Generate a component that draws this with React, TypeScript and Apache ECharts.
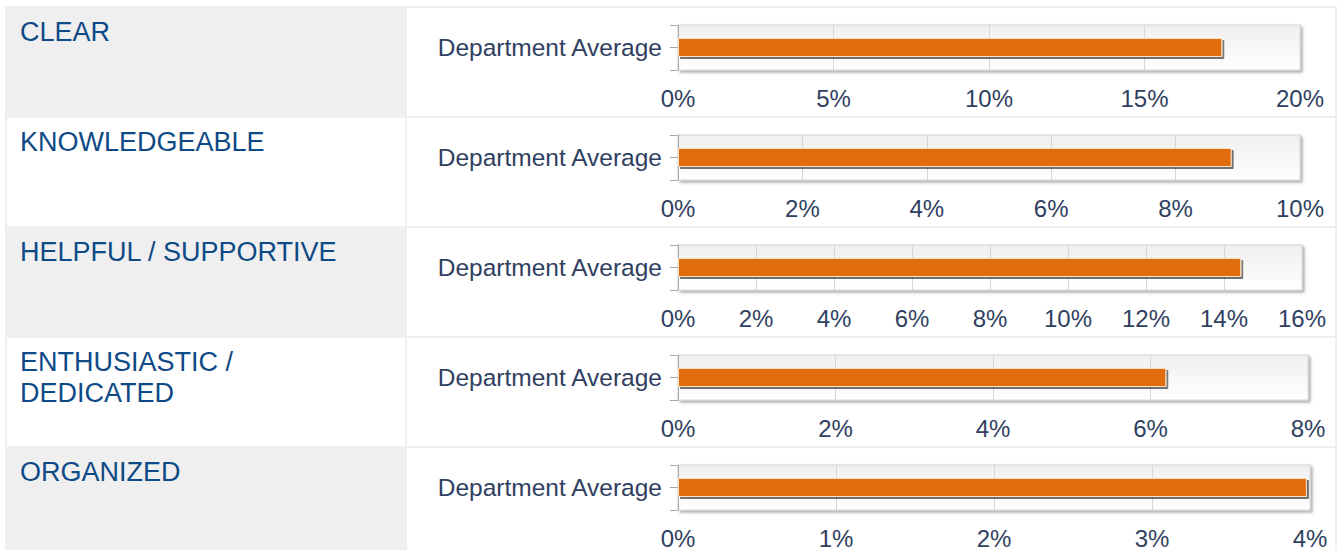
import React, { useEffect, useRef } from "react";
import * as echarts from "echarts";

const categories = ["CLEAR", "KNOWLEDGEABLE", "HELPFUL / SUPPORTIVE", "ENTHUSIASTIC / DEDICATED", "ORGANIZED"];
const seriesName = "Department Average";
const values = [17.5, 8.9, 14.44, 6.2, 3.98];
const axisMax = [20, 10, 16, 8, 4];
const axisInterval = [5, 2, 2, 2, 1];

const FONT = "'Liberation Sans', Arial, sans-serif";
const ROW_PITCH = 110;
const ROW_TOP0 = 8;
const PLOT_LEFT = 678;
const plotRightEdges = [1300, 1300, 1302, 1308, 1310];

export default function App() {
  const ref = useRef<HTMLDivElement>(null);
  useEffect(() => {
    if (!ref.current) return;
    const chart = echarts.init(ref.current, undefined, { renderer: "svg" });
    const W = 1337;
    const grids: any[] = [];
    const xAxes: any[] = [];
    const yAxes: any[] = [];
    const series: any[] = [];
    const graphics: any[] = [
      { type: "rect", z: -10, shape: { x: 5, y: 6, width: 1345, height: 560 }, style: { fill: "#efefef" } },
    ];
    categories.forEach((cat, i) => {
      const top = ROW_TOP0 + ROW_PITCH * i;
      graphics.push({
        type: "rect", z: -9,
        shape: { x: 7, y: top, width: 398, height: 108 },
        style: { fill: i % 2 === 0 ? "#efefef" : "#ffffff" },
      });
      graphics.push({
        type: "rect", z: -9,
        shape: { x: 407, y: top, width: 928, height: 108 },
        style: { fill: "#ffffff" },
      });
      graphics.push({
        type: "text", z: 5, x: 20, y: top + 8,
        style: {
          text: cat, fill: "#0e4a86", font: `27px ${FONT}`,
          width: 330, overflow: "break", lineHeight: 31,
        },
      });
      grids.push({
        show: true,
        left: PLOT_LEFT,
        right: W - plotRightEdges[i],
        top: top + 17,
        height: 45,
        borderWidth: 1,
        borderColor: "#d4d4d4",
        backgroundColor: new echarts.graphic.LinearGradient(0, 0, 0, 1, [
          { offset: 0, color: "#efefef" },
          { offset: 1, color: "#ffffff" },
        ]),
        shadowColor: "rgba(0,0,0,0.35)",
        shadowBlur: 3,
        shadowOffsetX: 2,
        shadowOffsetY: 2,
      });
      xAxes.push({
        type: "value",
        gridIndex: i,
        min: 0,
        max: axisMax[i],
        interval: axisInterval[i],
        axisLine: { show: false },
        axisTick: { show: false },
        splitLine: { show: true, lineStyle: { color: "#d6d6d6", width: 1 } },
        axisLabel: {
          formatter: "{value}%",
          color: "#2f4060",
          fontFamily: FONT,
          fontSize: 24,
          margin: 16,
        },
      });
      yAxes.push({
        type: "category",
        gridIndex: i,
        position: "left",
        data: [seriesName],
        axisLine: { show: true, lineStyle: { color: "#a8a8a8", width: 1 } },
        axisTick: { show: true, length: 8, lineStyle: { color: "#a8a8a8" } },
        axisLabel: { color: "#2f4060", fontFamily: FONT, fontSize: 24.5, margin: 16 },
        splitLine: { show: false },
      });
      yAxes.push({
        type: "value",
        gridIndex: i,
        position: "left",
        offset: 0,
        min: 0,
        max: 1,
        interval: 0.5,
        axisLine: { show: false },
        axisTick: { show: true, length: 8, lineStyle: { color: "#a8a8a8" } },
        axisLabel: { show: false },
        splitLine: { show: false },
      });
      series.push({
        type: "bar",
        name: seriesName,
        xAxisIndex: i,
        yAxisIndex: i * 2,
        data: [values[i]],
        barWidth: 19,
        itemStyle: {
          color: "#e06c0b",
          borderColor: "#fbe2bd",
          borderWidth: 1,
          shadowColor: "rgba(0,0,0,0.55)",
          shadowBlur: 1,
          shadowOffsetX: 2,
          shadowOffsetY: 2,
        },
      });
    });
    chart.setOption({
      animation: false,
      backgroundColor: "#ffffff",
      grid: grids,
      xAxis: xAxes,
      yAxis: yAxes,
      series,
      graphic: graphics,
    });
    return () => chart.dispose();
  }, []);
  return (
    <div
      ref={ref}
      style={{ position: "absolute", left: 0, top: 0, width: 1337, height: 550 }}
    />
  );
}
